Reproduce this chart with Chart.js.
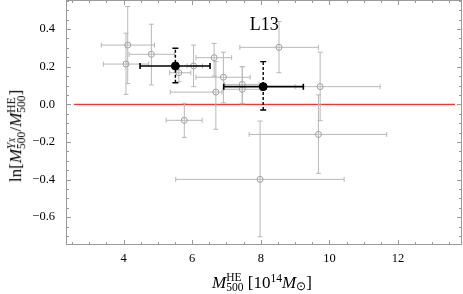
<!DOCTYPE html>
<html><head><meta charset="utf-8">
<script src="https://cdn.jsdelivr.net/npm/chart.js@4"></script>
<style>
html,body{margin:0;padding:0;background:#fff;}
#wrap{position:relative;width:463px;height:294px;overflow:hidden;}
canvas{position:absolute;left:0;top:0;}
.t{position:absolute;font-family:"Liberation Serif","Times New Roman",serif;color:#000;white-space:nowrap;line-height:1;}
.ss{display:inline-block;vertical-align:-0.3em;line-height:0.85;font-size:0.68em;text-align:left;font-style:normal;}
.ss>span{display:block;}
.sup{font-size:0.68em;vertical-align:0.45em;line-height:0;}
.sub{font-size:0.68em;vertical-align:-0.25em;line-height:0;}
</style></head>
<body><div id="wrap"><canvas id="c" width="463" height="294"></canvas>
<div class="t" id="xt" style="font-size:17px;left:262px;top:283px;transform:translate(-50%,-50%);"><i>M</i><span class="ss"><span>HE</span><span>500</span></span> [10<span class="sup">14</span><i>M</i><span class="sub">⊙</span>]</div>
<div class="t" id="yt" style="font-size:17px;left:17px;top:136px;transform:translate(-50%,-50%) rotate(-90deg);">ln[<i>M</i><span class="ss"><span><i>Y</i><span style="font-size:0.7em;"><i>X</i></span></span><span>500</span></span>/<i>M</i><span class="ss"><span>HE</span><span>500</span></span>]</div>
</div>
<script>
// ---- data ----
const grayX   = [4.12, 4.07, 4.81, 5.61, 6.04, 6.64, 6.69, 6.91, 7.46, 7.46, 8.53, 9.73, 9.68, 5.77, 7.98];
const grayY   = [0.315, 0.214, 0.266, 0.168, 0.204, 0.248, 0.065, 0.144, 0.106, 0.080, 0.303, 0.094, -0.160, -0.085, -0.399];
const grayXLo = [3.35, 3.41, 4.16, 5.34, 5.85, 6.11, 5.36, 6.11, 6.95, 6.90, 7.39, 9.00, 7.66, 5.24, 5.52];
const grayXHi = [4.90, 4.73, 5.48, 5.96, 6.30, 7.15, 6.87, 7.69, 7.95, 8.00, 9.68, 11.48, 11.67, 6.29, 10.43];
const grayYLo = [0.110, 0.053, 0.103, 0.120, 0.094, 0.150, -0.133, 0.008, 0.005, 0.003, 0.168, -0.087, -0.367, -0.176, -0.704];
const grayYHi = [0.520, 0.378, 0.426, 0.200, 0.315, 0.324, 0.227, 0.277, 0.200, 0.200, 0.440, 0.277, 0.050, 0.005, -0.089];

const blackX   = [5.51, 8.07];
const blackY   = [0.204, 0.094];
const blackXLo = [4.48, 6.92];
const blackXHi = [6.52, 9.24];
const blackYLo = [0.115, -0.030];
const blackYHi = [0.298, 0.227];

const zeroLineX = [2.55, 13.66];
const zeroLineY = [0, 0];

const xTicks = [4, 6, 8, 10, 12];
const yTicks = [-0.6, -0.4, -0.2, 0.0, 0.2, 0.4];
const panelLabel = "L13";

// ---- helpers ----
const pts = (xs, ys) => xs.map((x, i) => ({x: x, y: ys[i]}));

const errorBarPlugin = {
  id: 'errorBars',
  beforeDatasetDraw(chart, args) {
    const ds = chart.data.datasets[args.index];
    const eb = ds.errorBars;
    if (!eb) return;
    const xs = chart.scales.x, ys = chart.scales.y, ctx = chart.ctx;
    ctx.save();
    ctx.beginPath();
    ctx.rect(chart.chartArea.left, chart.chartArea.top, chart.chartArea.right - chart.chartArea.left, chart.chartArea.bottom - chart.chartArea.top);
    ctx.clip();
    ds.data.forEach((p, i) => {
      const px = xs.getPixelForValue(p.x), py = ys.getPixelForValue(p.y);
      const xl = xs.getPixelForValue(eb.xLo[i]), xh = xs.getPixelForValue(eb.xHi[i]);
      const yl = ys.getPixelForValue(eb.yLo[i]), yh = ys.getPixelForValue(eb.yHi[i]);
      ctx.strokeStyle = eb.color; ctx.lineWidth = eb.hWidth; ctx.setLineDash([]);
      ctx.beginPath();
      ctx.moveTo(xl, py); ctx.lineTo(xh, py);
      ctx.moveTo(xl, py - eb.cap); ctx.lineTo(xl, py + eb.cap);
      ctx.moveTo(xh, py - eb.cap); ctx.lineTo(xh, py + eb.cap);
      ctx.stroke();
      ctx.lineWidth = eb.vWidth;
      ctx.setLineDash(eb.vDash || []);
      ctx.beginPath();
      ctx.moveTo(px, yl); ctx.lineTo(px, yh);
      ctx.stroke();
      ctx.setLineDash([]);
      ctx.beginPath();
      ctx.moveTo(px - eb.cap, yl); ctx.lineTo(px + eb.cap, yl);
      ctx.moveTo(px - eb.cap, yh); ctx.lineTo(px + eb.cap, yh);
      ctx.stroke();
    });
    ctx.restore();
  }
};

const framePlugin = {
  id: 'frame',
  afterDraw(chart) {
    const {left, right, top, bottom} = chart.chartArea;
    const xs = chart.scales.x, ys = chart.scales.y, ctx = chart.ctx;
    ctx.save();
    ctx.strokeStyle = '#9a9a9a';
    ctx.lineWidth = 1;
    ctx.strokeRect(left + 0.5, top + 0.5, right - left - 1, bottom - top - 1);
    ctx.beginPath();
    for (let k = Math.ceil(xs.min * 2); k <= Math.floor(xs.max * 2); k++) {
      const v = k / 2;
      const major = xTicks.some(t => Math.abs(t - v) < 1e-6);
      const L = major ? 5 : 3;
      const px = Math.round(xs.getPixelForValue(v)) + 0.5;
      ctx.moveTo(px, bottom); ctx.lineTo(px, bottom - L);
      ctx.moveTo(px, top); ctx.lineTo(px, top + L);
    }
    for (let k = Math.ceil(ys.min * 20); k <= Math.floor(ys.max * 20); k++) {
      const v = k / 20;
      const major = yTicks.some(t => Math.abs(t - v) < 1e-6);
      const L = major ? 5 : 3;
      const py = Math.round(ys.getPixelForValue(v)) + 0.5;
      ctx.moveTo(left, py); ctx.lineTo(left + L, py);
      ctx.moveTo(right, py); ctx.lineTo(right - L, py);
    }
    ctx.stroke();
    ctx.fillStyle = '#000';
    ctx.font = '18px "Liberation Serif", serif';
    ctx.textAlign = 'center';
    ctx.textBaseline = 'alphabetic';
    ctx.fillText(panelLabel, xs.getPixelForValue(8.1), ys.getPixelForValue(0.395));
    ctx.restore();
  }
};

const tickFont = {family: '"Liberation Serif", serif', size: 12.5};

new Chart(document.getElementById('c'), {
  type: 'scatter',
  data: {
    datasets: [
      {
        label: 'black', order: 0,
        data: pts(blackX, blackY),
        pointRadius: 4, pointBackgroundColor: '#000', pointBorderColor: '#000', pointBorderWidth: 1,
        showLine: false,
        errorBars: {xLo: blackXLo, xHi: blackXHi, yLo: blackYLo, yHi: blackYHi, color: '#000', hWidth: 1.6, vWidth: 1.4, vDash: [3, 2], cap: 3}
      },
      {
        label: 'gray', order: 1,
        data: pts(grayX, grayY),
        pointRadius: 3, pointBackgroundColor: 'rgba(0,0,0,0)', pointBorderColor: '#a0a0a0', pointBorderWidth: 1,
        showLine: false,
        errorBars: {xLo: grayXLo, xHi: grayXHi, yLo: grayYLo, yHi: grayYHi, color: '#b8b8b8', hWidth: 1, vWidth: 1, cap: 2.5}
      },
      {
        label: 'zero', order: 2,
        data: pts(zeroLineX, zeroLineY),
        showLine: true, borderColor: '#ff0000', borderWidth: 1, pointRadius: 0, fill: false
      }
    ]
  },
  options: {
    responsive: false, animation: false,
    layout: {autoPadding: false, padding: {top: 0, right: 1, bottom: 0, left: 0}},
    plugins: {legend: {display: false}, tooltip: {enabled: false}},
    scales: {
      x: {
        type: 'linear', min: 2.321, max: 13.866,
        grid: {display: false, drawTicks: false}, border: {display: false},
        afterBuildTicks: s => { s.ticks = xTicks.map(v => ({value: v})); },
        afterFit: s => { s.height = 49; s.paddingLeft = 0; s.paddingRight = 0; s.paddingTop = 0; s.paddingBottom = 0; },
        ticks: {font: tickFont, color: '#000', padding: 6, maxRotation: 0, autoSkip: false, callback: v => String(v)}
      },
      y: {
        type: 'linear', min: -0.748, max: 0.5547,
        grid: {display: false, drawTicks: false}, border: {display: false},
        afterBuildTicks: s => { s.ticks = yTicks.map(v => ({value: v})); },
        afterFit: s => { s.width = 66; s.paddingLeft = 0; s.paddingRight = 0; s.paddingTop = 0; s.paddingBottom = 0; },
        ticks: {font: tickFont, color: '#000', padding: 11, autoSkip: false, callback: v => (Math.abs(v) < 1e-9 ? 0 : v).toFixed(1).replace('-', '\u2212')}
      }
    }
  },
  plugins: [errorBarPlugin, framePlugin]
});
</script>
</body></html>
